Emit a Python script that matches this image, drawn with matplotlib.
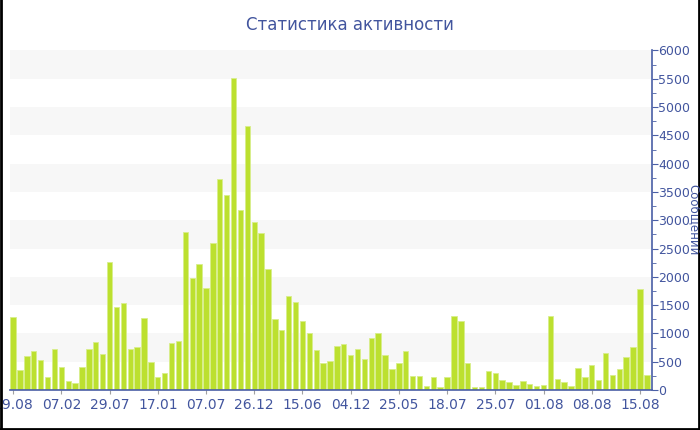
import numpy as np
import matplotlib.pyplot as plt
from matplotlib.ticker import MultipleLocator
from matplotlib.lines import Line2D

TITLE = 'Статистика активности'
YLABEL = 'Сообщений'

# messages per period
messages = [1290, 350, 605, 690, 525, 225, 725, 405, 155, 120,
            400, 725, 855, 635, 2265, 1465, 1535, 730, 760, 1265,
            490, 230, 295, 825, 860, 2795, 1975, 2230, 1800, 2600,
            3730, 3450, 5510, 3180, 4670, 2975, 2780, 2135, 1250, 1055,
            1670, 1550, 1215, 1015, 700, 485, 520, 772, 807, 613,
            719, 554, 919, 1002, 619, 365, 471, 695, 256, 256,
            62, 233, 52, 224, 1311, 1211, 472, 53, 59, 342,
            306, 171, 150, 83, 165, 100, 62, 94, 1314, 189,
            141, 71, 383, 236, 442, 177, 648, 265, 365, 589,
            766, 1780, 259]
tick_labels = ['19.08', '07.02', '29.07', '17.01', '07.07', '26.12', '15.06',
               '04.12', '25.05', '18.07', '25.07', '01.08', '08.08', '15.08']
TICK_STEP = 7

BLUE = '#4a5fa6'
TEXT = '#42559e'
BAR = '#bce02f'

fig = plt.figure(figsize=(7, 4.3), dpi=100)
ax = fig.add_axes([10 / 700, 40 / 430, 642 / 700, 339.5 / 430])

# alternating bands
for lo in range(500, 6000, 1000):
    ax.axhspan(lo, lo + 500, color='#f7f7f7', zorder=0, lw=0)

x = np.arange(len(messages))
ax.bar(x, messages, width=0.78, color=BAR, edgecolor='#d8ee8c', linewidth=0.6, zorder=2)

ax.set_xlim(-0.45, len(messages) - 0.25)
ax.set_ylim(0, 6000)

ax.set_xticks(x[::TICK_STEP])
ax.set_xticklabels(tick_labels)
ax.yaxis.tick_right()
ax.yaxis.set_major_locator(MultipleLocator(500))
ax.yaxis.set_minor_locator(MultipleLocator(250))

for s in ('top', 'left'):
    ax.spines[s].set_visible(False)
for s in ('right', 'bottom'):
    ax.spines[s].set_color(BLUE)
    ax.spines[s].set_linewidth(1.2)

ax.tick_params(axis='y', which='major', length=4, color=BLUE, labelsize=9,
               labelcolor=TEXT, pad=0.5)
ax.tick_params(axis='y', which='minor', length=3, color=BLUE)
ax.tick_params(axis='x', length=3, color='#a0a0a0', labelsize=10,
               labelcolor=TEXT, pad=3)

fig.text(1 - 6 / 700, 1 - 220 / 430, YLABEL, rotation=270, ha='center', va='center',
         color=TEXT, fontsize=8.5)
fig.text(0.5, 1 - 25 / 430, TITLE, ha='center', va='center', color=TEXT, fontsize=12)

# frame of the picture
for xs, ys in (([0.001, 0.001], [0, 1]), ([0.999, 0.999], [0, 1]), ([0, 1], [0.003, 0.003])):
    fig.add_artist(Line2D(xs, ys, color='black', lw=2, transform=fig.transFigure))

fig.savefig('out.png', dpi=100)
